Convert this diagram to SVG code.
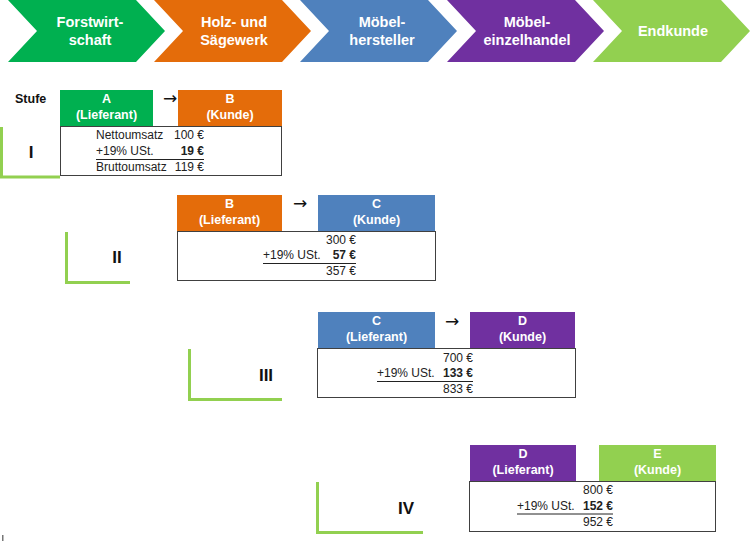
<svg xmlns="http://www.w3.org/2000/svg" width="750" height="541" viewBox="0 0 750 541">
<style>
.chev{stroke:none}
.ct{font-family:"Liberation Sans",Arial,sans-serif;font-weight:bold;font-size:14.5px;fill:#fff;text-anchor:middle}
.ht{font-family:"Liberation Sans",Arial,sans-serif;font-weight:bold;font-size:12.5px;fill:#fff;text-anchor:middle}
.tt{font-family:"Liberation Sans",Arial,sans-serif;font-size:12px;fill:#222}
.num{text-anchor:end}
.b{font-weight:bold}
.body{fill:#fff;stroke:#404040;stroke-width:1}
.ul{stroke:#222;stroke-width:1}
.lsh{fill:none;stroke:#92D050;stroke-width:3}
.rom{font-family:"Liberation Sans",Arial,sans-serif;font-weight:bold;font-size:17px;fill:#111;text-anchor:middle}
.arr{font-family:"DejaVu Sans",sans-serif;font-size:17px;fill:#111;text-anchor:middle}
</style>
<rect width="750" height="541" fill="#fff"/>
<g id="chevrons">
<g id="forstwirtschaft">
<polygon class="chev" fill="#00B050" points="8,0 136,0 165,31 136,62 8,62 37,31"/>
<text class="ct" x="90" y="27">Forstwirt-</text>
<text class="ct" x="90" y="45">schaft</text>
</g>
<g id="holz">
<polygon class="chev" fill="#E46C0A" points="154,0 282,0 311,31 282,62 154,62 183,31"/>
<text class="ct" x="234" y="27">Holz- und</text>
<text class="ct" x="234" y="45">Sägewerk</text>
</g>
<g id="moebelhersteller">
<polygon class="chev" fill="#4F81BD" points="300,0 428,0 457,31 428,62 300,62 329,31"/>
<text class="ct" x="382" y="27">Möbel-</text>
<text class="ct" x="382" y="45">hersteller</text>
</g>
<g id="einzelhandel">
<polygon class="chev" fill="#7030A0" points="447,0 575,0 604,31 575,62 447,62 476,31"/>
<text class="ct" x="527" y="27">Möbel-</text>
<text class="ct" x="527" y="45">einzelhandel</text>
</g>
<g id="endkunde">
<polygon class="chev" fill="#92D050" points="593,0 721,0 750,31 721,62 593,62 622,31"/>
<text class="ct" x="673" y="36">Endkunde</text>
</g>
</g>
<text id="stufe" x="15" y="103" font-family="Liberation Sans,Arial,sans-serif" font-weight="bold" font-size="12.5" fill="#111">Stufe</text>
<g id="connectors">
<text class="arr" x="170" y="104">→</text>
<text class="arr" x="300" y="209">→</text>
<text class="arr" x="452" y="327">→</text>
</g>
<g id="stufe1">
<polyline class="lsh" points="1.5,127 1.5,177 60,177"/>
<text class="rom" x="31" y="158">I</text>
<rect x="60" y="90" width="93" height="36" fill="#00B050"/>
<text class="ht" x="106.5" y="103">A</text>
<text class="ht" x="106.5" y="119">(Lieferant)</text>
<rect x="178" y="90" width="104" height="36" fill="#E46C0A"/>
<text class="ht" x="230" y="103">B</text>
<text class="ht" x="230" y="119">(Kunde)</text>
<rect class="body" x="60.5" y="126.5" width="221" height="49"/>
<text class="tt" x="96" y="139">Nettoumsatz</text>
<text class="tt num" x="204" y="139">100 €</text>
<text class="tt" x="96" y="155">+19% USt.</text>
<text class="tt num b" x="204" y="155">19 €</text>
<line class="ul" x1="96" y1="159.5" x2="204" y2="159.5"/>
<text class="tt" x="96" y="171">Bruttoumsatz</text>
<text class="tt num" x="204" y="171">119 €</text>
</g>
<g id="stufe2">
<polyline class="lsh" points="66.5,232 66.5,282.5 130,282.5"/>
<text class="rom" x="117" y="263">II</text>
<rect x="177" y="195" width="105" height="36" fill="#E46C0A"/>
<text class="ht" x="229.5" y="208">B</text>
<text class="ht" x="229.5" y="224">(Lieferant)</text>
<rect x="318" y="195" width="117" height="36" fill="#4F81BD"/>
<text class="ht" x="376.5" y="208">C</text>
<text class="ht" x="376.5" y="224">(Kunde)</text>
<rect class="body" x="177.5" y="231.5" width="258" height="49"/>
<text class="tt num" x="356" y="244">300 €</text>
<text class="tt" x="263" y="259">+19% USt.</text>
<text class="tt num b" x="356" y="259">57 €</text>
<line class="ul" x1="263" y1="263.5" x2="356" y2="263.5"/>
<text class="tt num" x="356" y="275">357 €</text>
</g>
<g id="stufe3">
<polyline class="lsh" points="189.5,349 189.5,399.5 282,399.5"/>
<text class="rom" x="266" y="381">III</text>
<rect x="318" y="312" width="117" height="36" fill="#4F81BD"/>
<text class="ht" x="376.5" y="325">C</text>
<text class="ht" x="376.5" y="341">(Lieferant)</text>
<rect x="470" y="312" width="105" height="36" fill="#7030A0"/>
<text class="ht" x="522.5" y="325">D</text>
<text class="ht" x="522.5" y="341">(Kunde)</text>
<rect class="body" x="317.5" y="348.5" width="258" height="49"/>
<text class="tt num" x="473" y="362">700 €</text>
<text class="tt" x="377" y="377">+19% USt.</text>
<text class="tt num b" x="473" y="377">133 €</text>
<line class="ul" x1="377" y1="381.5" x2="473" y2="381.5"/>
<text class="tt num" x="473" y="393">833 €</text>
</g>
<g id="stufe4">
<polyline class="lsh" points="317.5,482 317.5,532.5 423,532.5"/>
<text class="rom" x="406" y="514">IV</text>
<rect x="470" y="445" width="106" height="36" fill="#7030A0"/>
<text class="ht" x="523" y="458">D</text>
<text class="ht" x="523" y="474">(Lieferant)</text>
<rect x="599" y="445" width="117" height="36" fill="#92D050"/>
<text class="ht" x="657.5" y="458">E</text>
<text class="ht" x="657.5" y="474">(Kunde)</text>
<rect class="body" x="469.5" y="481.5" width="246" height="50"/>
<text class="tt num" x="613" y="494">800 €</text>
<text class="tt" x="517" y="510">+19% USt.</text>
<text class="tt num b" x="613" y="510">152 €</text>
<line class="ul" x1="517" y1="514" x2="613" y2="514"/>
<text class="tt num" x="613" y="526">952 €</text>
</g>
<rect x="2" y="535" width="1.5" height="6" fill="#777"/>
</svg>
